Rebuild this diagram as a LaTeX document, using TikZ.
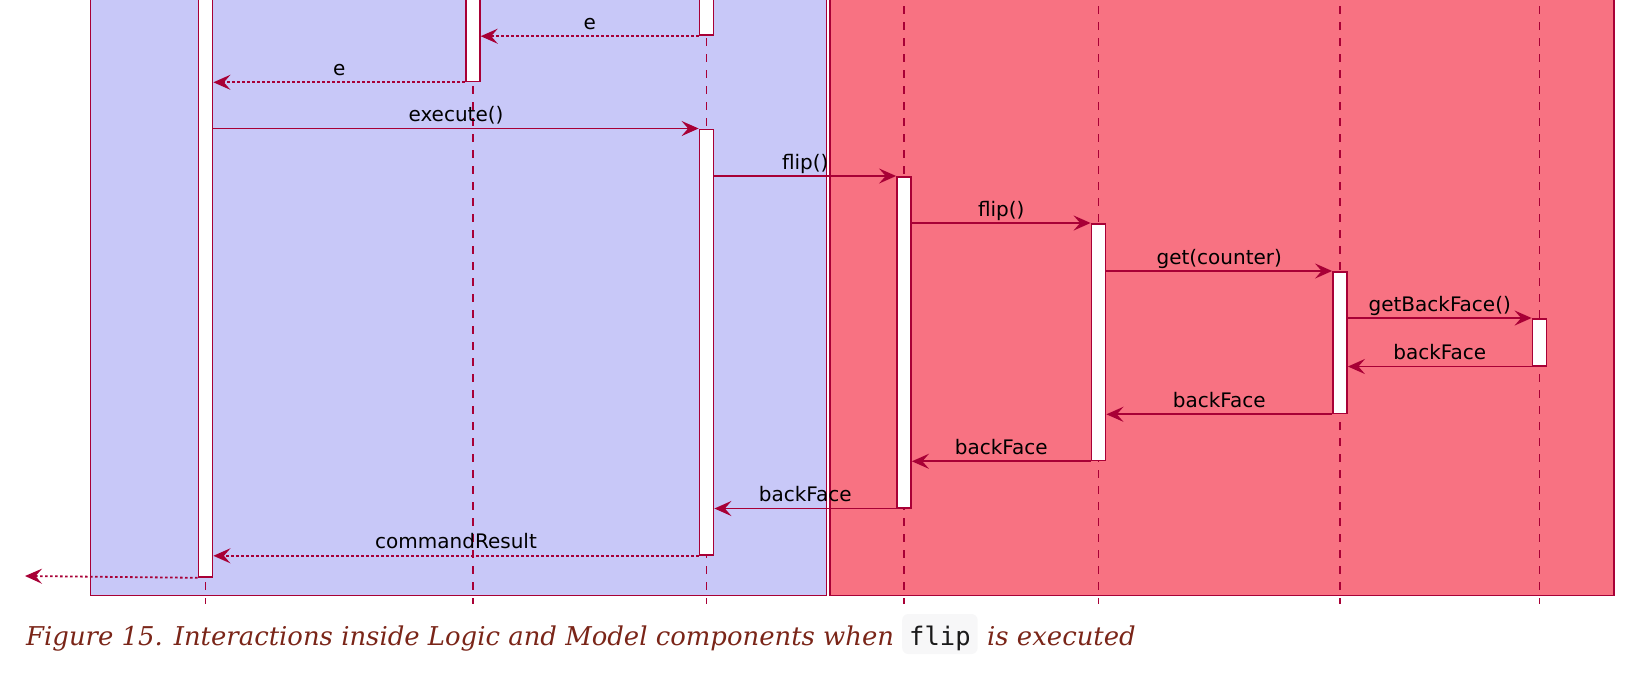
\documentclass[tikz,border=0pt]{standalone}
\usepackage{fontspec}
\setmainfont{DejaVu Serif}
\newfontfamily\msgfont{DejaVu Sans}
\newfontfamily\codefont{DejaVu Sans Mono}
\usetikzlibrary{arrows.meta}
\definecolor{uml}{HTML}{A80036}
\definecolor{logicbg}{HTML}{C8C8F8}
\definecolor{modelbg}{HTML}{F87282}
\definecolor{capred}{HTML}{7A2518}
\definecolor{codebg}{HTML}{F7F7F8}
\definecolor{codefg}{HTML}{1A1A1A}
\tikzset{
  groupbox/.style={draw=uml, line width=1.4pt},
  life/.style={draw=uml, line width=1.5pt, dash pattern=on 8pt off 8pt},
  bar/.style={draw=uml, fill=white, line width=1.8pt, minimum width=14pt, inner sep=0pt, anchor=north},
  call/.style={draw=uml, line width=1.8pt, -{Stealth[length=17pt, width=15pt, inset=6.5pt]}},
  ret/.style={call, dash pattern=on 2.6pt off 2.4pt},
  lbl/.style={font=\msgfont\fontsize{20}{24}\selectfont, text=black, anchor=base, yshift=7pt, inner sep=0pt},
  captext/.style={font=\itshape\fontsize{25.9}{30}\selectfont, text=capred, anchor=base west, inner sep=0pt},
  codebox/.style={font=\codefont\fontsize{25.5}{28}\selectfont, text=codefg, fill=codebg, rounded corners=6pt,
    anchor=base west, inner xsep=7pt, inner ysep=8pt, text height=23pt, text depth=1pt}
}
\begin{document}
\begin{tikzpicture}[x=1pt,y=-1pt]
\useasboundingbox (0,0) rectangle (1634,686);
\clip (0,0) rectangle (1634,686);
% group boxes
\path[groupbox, fill=logicbg] (90.5,-20) rectangle (826.2,595.5);
\path[groupbox, fill=modelbg] (829.8,-20) rectangle (1613.8,595.5);
% lifelines
\draw[life] (205.5,-10) -- (205.5,604.3);
\draw[life] (472.8,-10) -- (472.8,604.3);
\draw[life] (706.5,-10) -- (706.5,604.3);
\draw[life] (904,-10) -- (904,604.3);
\draw[life] (1098.5,-10) -- (1098.5,604.3);
\draw[life] (1340,-10) -- (1340,604.3);
\draw[life] (1539.5,-10) -- (1539.5,604.3);
% activation bars
\node[bar, minimum height=586pt] (b1) at (205.5,-10) {};
\node[bar, minimum height=90.5pt] (b2) at (472.8,-10) {};
\node[bar, minimum height=44.4pt] (b3a) at (706.5,-10) {};
\node[bar, minimum height=425.5pt] (b3) at (706.5,128.5) {};
\node[bar, minimum height=330.7pt] (b4) at (904,176) {};
\node[bar, minimum height=236.5pt] (b5) at (1098.5,223) {};
\node[bar, minimum height=141.5pt] (b6) at (1340,271) {};
\node[bar, minimum height=46.7pt] (b7) at (1539.5,318) {};
\coordinate (out) at (25,576);
% messages
\draw[ret] (b3a.south west) -- node[lbl]{e} (b3a.south west -| b2.east);
\draw[ret] (b2.south west) -- node[lbl]{e} (b2.south west -| b1.east);
\draw[call] (b1.east |- b3.north) -- node[lbl]{execute()} (b3.north west);
\draw[call] (b3.east |- b4.north) -- node[lbl]{flip()} (b4.north west);
\draw[call] (b4.east |- b5.north) -- node[lbl]{flip()} (b5.north west);
\draw[call] (b5.east |- b6.north) -- node[lbl]{get(counter)} (b6.north west);
\draw[call] (b6.east |- b7.north) -- node[lbl]{getBackFace()} (b7.north west);
\draw[call] (b7.south west) -- node[lbl]{backFace} (b7.south west -| b6.east);
\draw[call] (b6.south west) -- node[lbl]{backFace} (b6.south west -| b5.east);
\draw[call] (b5.south west) -- node[lbl]{backFace} (b5.south west -| b4.east);
\draw[call] (b4.south west) -- node[lbl]{backFace} (b4.south west -| b3.east);
\draw[ret] (b3.south west) -- node[lbl]{commandResult} (b3.south west -| b1.east);
\draw[ret] (b1.south west) -- (out);
% caption
\node[captext] (cap1) at (26,645) {Figure 15. Interactions inside Logic and Model components when};
\node[codebox] (code) at (902,645) {flip};
\node[captext] (cap2) at (987,645) {is executed};
\end{tikzpicture}
\end{document}
